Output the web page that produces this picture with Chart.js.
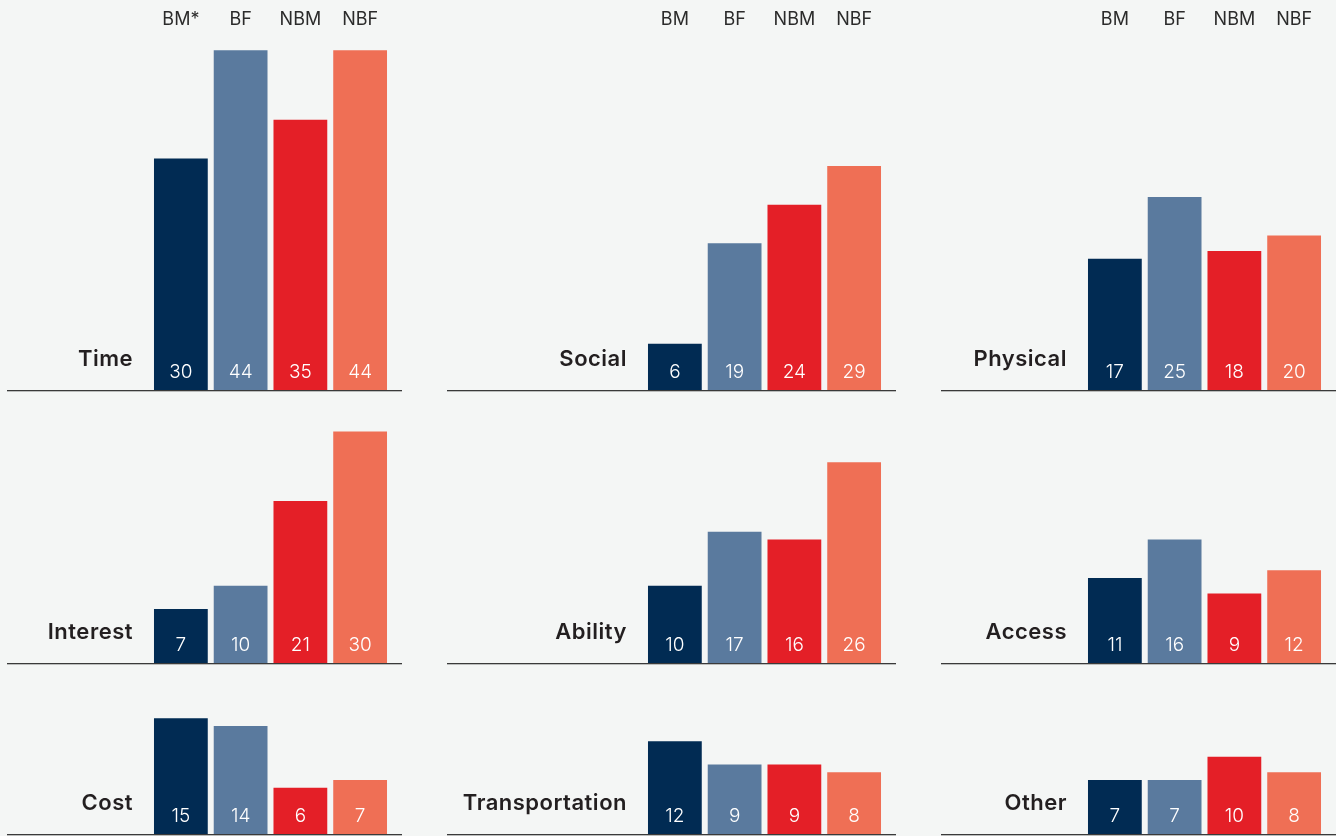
<!DOCTYPE html>
<html>
<head>
<meta charset="utf-8">
<script src="https://cdn.jsdelivr.net/npm/chart.js@4.4.1/dist/chart.umd.min.js"></script>
<style>
  html, body { margin: 0; padding: 0; background: #f4f6f5; }
  body { width: 1336px; height: 836px; position: relative; overflow: hidden; }
  .panel { position: absolute; }
  .panel canvas { display: block; }
</style>
</head>
<body>
<script>
// Group codes shown above the first row of panels
const categories = ['BM', 'BF', 'NBM', 'NBF'];
const categoriesMarked = ['BM*', 'BF', 'NBM', 'NBF'];

// Share (%) of each group citing the barrier
const timeValues = [30, 44, 35, 44];
const socialValues = [6, 19, 24, 29];
const physicalValues = [17, 25, 18, 20];
const interestValues = [7, 10, 21, 30];
const abilityValues = [10, 17, 16, 26];
const accessValues = [11, 16, 9, 12];
const costValues = [15, 14, 6, 7];
const transportationValues = [12, 9, 9, 8];
const otherValues = [7, 7, 10, 8];

const barColors = ['#012b53', '#5a7a9e', '#e41f27', '#ef6f55'];
const FONT = 'Inter, "Open Sans", sans-serif';
const PX_PER_UNIT = 7.72;

// Grid geometry: columns (left, width, left padding) and rows (top, height, top pad, bottom pad)
const columns = [
  { left: 7, width: 395, padLeft: 144 },
  { left: 447, width: 449, padLeft: 198 },
  { left: 941, width: 395, padLeft: 144 }
];
const rows = [
  { top: 0, height: 393, padTop: 40, padBottom: 3, header: true },
  { top: 400, height: 266, padTop: 0, padBottom: 3, header: false },
  { top: 672, height: 164, padTop: 0, padBottom: 2, header: false }
];

const panels = [
  { title: 'Time', labels: categoriesMarked, values: timeValues },
  { title: 'Social', labels: categories, values: socialValues },
  { title: 'Physical', labels: categories, values: physicalValues },
  { title: 'Interest', labels: categories, values: interestValues },
  { title: 'Ability', labels: categories, values: abilityValues },
  { title: 'Access', labels: categories, values: accessValues },
  { title: 'Cost', labels: categories, values: costValues },
  { title: 'Transportation', labels: categories, values: transportationValues },
  { title: 'Other', labels: categories, values: otherValues }
];

// Draws baseline, panel title, value labels and (first row) group headers
const panelDecor = {
  id: 'panelDecor',
  afterDatasetsDraw(chart, args, opts) {
    const ctx = chart.ctx;
    const area = chart.chartArea;
    const xs = chart.scales.x;
    const meta = chart.getDatasetMeta(0);
    const base = area.bottom;
    ctx.save();
    // baseline
    ctx.fillStyle = '#3a3a3a';
    ctx.fillRect(0, base, chart.width, 1.3);
    // title
    const firstBar = meta.data[0];
    const barLeft = firstBar.x - firstBar.width / 2;
    ctx.fillStyle = '#231f20';
    ctx.font = '600 22px ' + FONT;
    ctx.letterSpacing = '0.5px';
    ctx.textAlign = 'right';
    ctx.textBaseline = 'middle';
    ctx.fillText(opts.title, barLeft - 21, base - 31);
    ctx.letterSpacing = '0px';
    // value labels inside bars
    ctx.fillStyle = '#ffffff';
    ctx.font = '300 19px ' + FONT;
    ctx.textAlign = 'center';
    meta.data.forEach((bar, i) => {
      ctx.fillText(String(chart.data.datasets[0].data[i]), bar.x, base - 17.5);
    });
    // group headers
    if (opts.header) {
      ctx.fillStyle = '#2b2b2b';
      ctx.font = '400 18px ' + FONT;
      chart.data.labels.forEach((lab, i) => {
        ctx.fillText(lab, xs.getPixelForValue(i), 20);
      });
    }
    ctx.restore();
  }
};

panels.forEach((p, idx) => {
  const col = columns[idx % 3];
  const row = rows[Math.floor(idx / 3)];
  const div = document.createElement('div');
  div.className = 'panel';
  div.style.left = col.left + 'px';
  div.style.top = row.top + 'px';
  div.style.width = col.width + 'px';
  div.style.height = row.height + 'px';
  const canvas = document.createElement('canvas');
  div.appendChild(canvas);
  document.body.appendChild(div);

  const areaWidth = 239;
  const areaHeight = row.height - row.padTop - row.padBottom;
  new Chart(canvas, {
    type: 'bar',
    data: {
      labels: p.labels,
      datasets: [{
        data: p.values,
        backgroundColor: barColors,
        borderWidth: 0,
        barPercentage: 0.9,
        categoryPercentage: 1
      }]
    },
    options: {
      responsive: true,
      maintainAspectRatio: false,
      animation: false,
      events: [],
      layout: {
        padding: {
          left: col.padLeft,
          right: col.width - col.padLeft - areaWidth,
          top: row.padTop,
          bottom: row.padBottom
        }
      },
      scales: {
        x: { display: false },
        y: { display: false, min: 0, max: areaHeight / PX_PER_UNIT }
      },
      plugins: {
        legend: { display: false },
        tooltip: { enabled: false },
        panelDecor: { title: p.title, header: row.header }
      }
    },
    plugins: [panelDecor]
  });
});
</script>
</body>
</html>
